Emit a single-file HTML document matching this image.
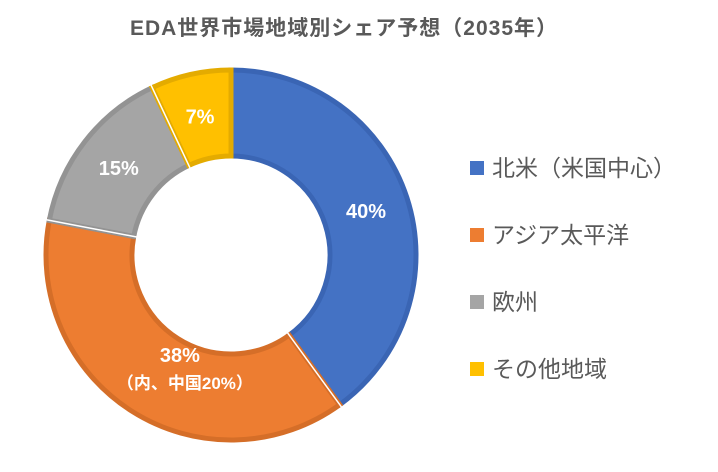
<!DOCTYPE html>
<html><head><meta charset="utf-8"><style>
body{margin:0;background:#fff;width:718px;height:467px;overflow:hidden;font-family:"Liberation Sans","Noto Sans CJK JP",sans-serif}
</style></head><body>
<svg width="718" height="467">
<text x="344" y="35" text-anchor="middle" font-size="21" font-weight="bold" fill="#595959" letter-spacing="1" font-family="Liberation Sans, Noto Sans CJK JP, sans-serif">EDA世界市場地域別シェア予想（2035年）</text>
<g id="slices"></g>
<g id="labels" font-family="Liberation Sans, Noto Sans CJK JP, sans-serif" font-weight="bold" fill="#fff" text-anchor="middle"></g>
<g id="legend" font-family="Liberation Sans, Noto Sans CJK JP, sans-serif" font-size="23" fill="#595959"></g>
</svg>
<script>
const categories=["北米（米国中心）","アジア太平洋","欧州","その他地域"];
const values=[40,38,15,7];
const valueLabels=["40%","38%","15%","7%"];
const fills=["#4472C4","#ED7D31","#A5A5A5","#FFC000"];
const strokes=["#3A65B4","#D56E28","#939393","#E4AB00"];
const cx=231,cy=255,R=185,r=99;
const NS="http://www.w3.org/2000/svg";
const total=values.reduce((a,b)=>a+b,0);
const sl=document.getElementById('slices'),lb=document.getElementById('labels'),lg=document.getElementById('legend');
function pt(a,rad){return [cx+rad*Math.sin(a),cy-rad*Math.cos(a)];}
let acc=0;
values.forEach((v,i)=>{
  const a0=acc/total*2*Math.PI,a1=(acc+v)/total*2*Math.PI;acc+=v;
  const large=(a1-a0)>Math.PI?1:0;
  const p0=pt(a0,R),p1=pt(a1,R),q1=pt(a1,r),q0=pt(a0,r);
  const p=document.createElementNS(NS,'path');
  p.setAttribute('d',`M${p0} A${R},${R} 0 ${large} 1 ${p1} L${q1} A${r},${r} 0 ${large} 0 ${q0} Z`);
  p.setAttribute('fill',fills[i]);p.setAttribute('stroke',strokes[i]);p.setAttribute('stroke-width','5');
  
  
  sl.appendChild(p);
  const b=document.createElementNS(NS,'path');
  b.setAttribute('d',`M${pt(a0,R+3)} L${pt(a0,r-3)}`);b.setAttribute('stroke','#fff');b.setAttribute('stroke-width','1.5');
  
  
  sl.appendChild(b);
  const m=(a0+a1)/2;
  let lp=pt(m,(R+r)/2);
  if(i==1){lp=[lp[0]+25,lp[1]-20];}
  const t=document.createElementNS(NS,'text');
  t.setAttribute('x',lp[0]);t.setAttribute('y',lp[1]+7);t.setAttribute('font-size','20');
  t.textContent=valueLabels[i];
  
  
  lb.appendChild(t);
  if(i==1){const t2=document.createElementNS(NS,'text');t2.setAttribute('x',lp[0]+5);t2.setAttribute('y',lp[1]+34);t2.setAttribute('font-size','17');t2.textContent='（内、中国20%）';
  
  
  lb.appendChild(t2);}
  const y=168+i*67;
  const s=document.createElementNS(NS,'rect');s.setAttribute('x',470);s.setAttribute('y',y-7);s.setAttribute('width',14);s.setAttribute('height',14);s.setAttribute('fill',fills[i]);
  
  
  lg.appendChild(s);
  const lt=document.createElementNS(NS,'text');lt.setAttribute('x',492);lt.setAttribute('y',y+8);lt.textContent=categories[i];
  
  
  lg.appendChild(lt);
});
</script>
</body></html>
